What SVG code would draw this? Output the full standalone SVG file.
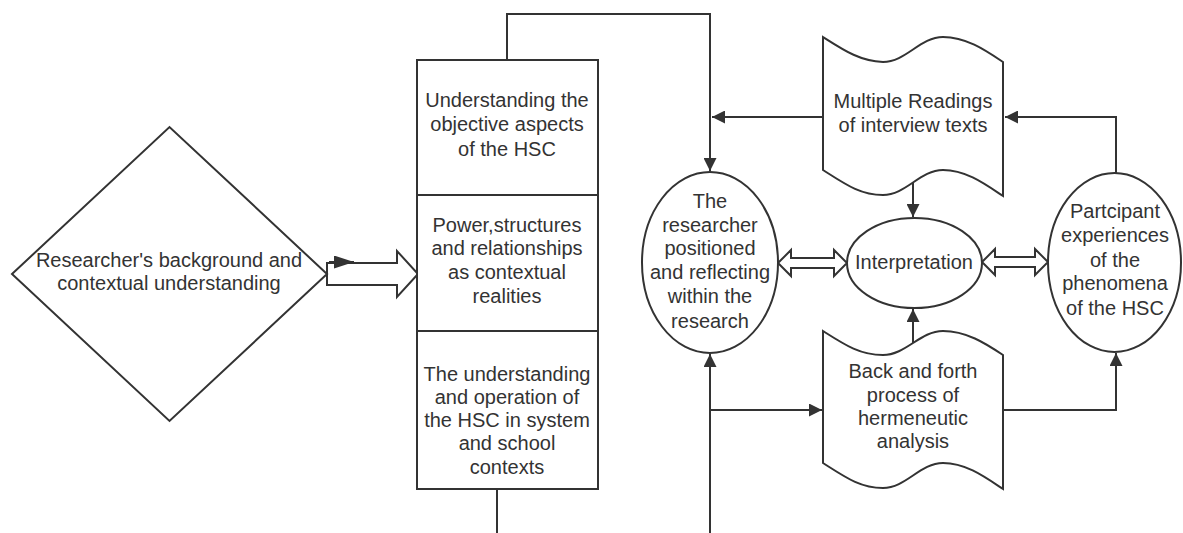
<svg xmlns="http://www.w3.org/2000/svg" width="1183" height="533" viewBox="0 0 1183 533">
<style>
.s{fill:#fff;stroke:#333;stroke-width:2}
.c{fill:none;stroke:#333;stroke-width:2}
.h{fill:#fff;stroke:#333;stroke-width:2;stroke-linejoin:miter}
text{font-family:"Liberation Sans",Arial,sans-serif;font-size:20px;fill:#333;text-anchor:middle}
</style>
<defs>
<marker id="a" markerUnits="userSpaceOnUse" markerWidth="14" markerHeight="13" refX="13" refY="6.5" orient="auto">
<path d="M0,0 L13,6.5 L0,13 Z" fill="#333"/>
</marker>
<marker id="b" markerUnits="userSpaceOnUse" markerWidth="21" markerHeight="13" refX="20" refY="6.5" orient="auto">
<path d="M0,0 L20,6.5 L0,13 Z" fill="#333"/>
</marker>
</defs>
<rect width="1183" height="533" fill="#fff"/>
<g id="connectors">
<path class="c" d="M507,60 V14 H710 V171" marker-end="url(#a)"/>
<path class="c" d="M823,117 H712" marker-end="url(#a)"/>
<path class="c" d="M497,489 V533"/>
<path class="c" d="M710,533 V354" marker-end="url(#a)"/>
<path class="c" d="M710,410 H822" marker-end="url(#a)"/>
<path class="c" d="M1003,410 H1116 V353" marker-end="url(#a)"/>
<path class="c" d="M1116,173 V117 H1005" marker-end="url(#a)"/>
<path class="c" d="M913,183 V217" marker-end="url(#a)"/>
<path class="c" d="M913,343 V309" marker-end="url(#a)"/>
<polygon class="h" points="327,263 397,263 397,251 418,274 397,297 397,285 327,285"/>
<path class="c" d="M329,262 H354" marker-end="url(#b)"/>
<polygon class="h" points="778,263 791,250 791,258 834,258 834,250 847,263 834,276 834,268 791,268 791,276"/>
<polygon class="h" points="982,262 995,249 995,257 1035,257 1035,249 1048,262 1035,275 1035,267 995,267 995,275"/>
</g>
<g id="diamond">
<polygon class="s" points="12,274 169.5,127 327,274 169.5,421"/>
<text x="169" y="267">Researcher's background and</text>
<text x="169" y="290">contextual understanding</text>
</g>
<g id="box1">
<rect class="s" x="417" y="60" width="181" height="135"/>
<text x="507" y="107">Understanding the</text>
<text x="507" y="131">objective aspects</text>
<text x="507" y="156">of the HSC</text>
</g>
<g id="box2">
<rect class="s" x="417" y="195" width="181" height="136"/>
<text x="507" y="232">Power,structures</text>
<text x="507" y="255">and relationships</text>
<text x="507" y="279">as contextual</text>
<text x="507" y="303">realities</text>
</g>
<g id="box3">
<rect class="s" x="417" y="331" width="181" height="158"/>
<text x="507" y="381">The understanding</text>
<text x="507" y="404">and operation of</text>
<text x="507" y="427">the HSC in system</text>
<text x="507" y="450">and school</text>
<text x="507" y="474">contexts</text>
</g>
<g id="researcher">
<ellipse class="s" cx="710" cy="262.5" rx="68" ry="90.5"/>
<text x="710" y="208">The</text>
<text x="710" y="232">researcher</text>
<text x="710" y="255">positioned</text>
<text x="710" y="279">and reflecting</text>
<text x="710" y="303">within the</text>
<text x="710" y="328">research</text>
</g>
<g id="interpretation">
<ellipse class="s" cx="914.5" cy="263" rx="67.5" ry="45"/>
<text x="914" y="269">Interpretation</text>
</g>
<g id="participant">
<ellipse class="s" cx="1114.5" cy="262.5" rx="66.5" ry="89.5"/>
<text x="1115" y="218">Partcipant</text>
<text x="1115" y="242">experiences</text>
<text x="1115" y="267">of the</text>
<text x="1115" y="290">phenomena</text>
<text x="1115" y="315">of the HSC</text>
</g>
<g id="readings">
<path class="s" d="M823,37 C845,51 860,61 883,62 C906,62 920,37 943,37 C966,37 985,50 1003,62 L1003,196 C985,184 966,170 943,170 C920,170 906,195 883,195 C860,195 845,184 823,170 Z"/>
<text x="913" y="108">Multiple Readings</text>
<text x="913" y="132">of interview texts</text>
</g>
<g id="backforth">
<path class="s" d="M823,331 C845,345 860,355 883,355 C906,355 920,331 943,331 C966,331 985,343 1003,355 L1003,489 C985,477 966,463 943,463 C920,463 906,488 883,488 C860,488 845,477 823,463 Z"/>
<text x="913" y="378">Back and forth</text>
<text x="913" y="402">process of</text>
<text x="913" y="425">hermeneutic</text>
<text x="913" y="448">analysis</text>
</g>
</svg>
